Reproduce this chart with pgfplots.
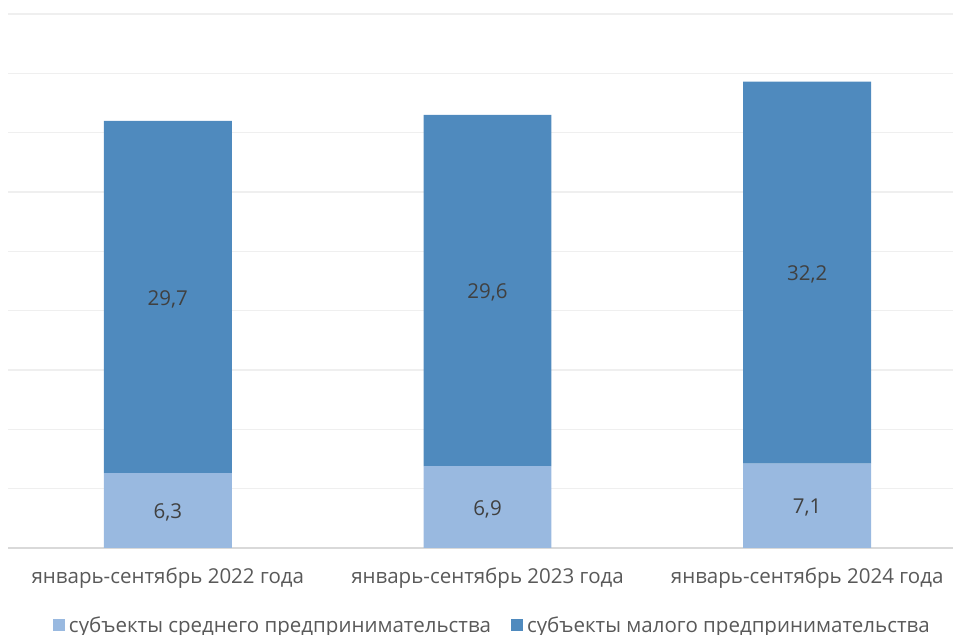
\documentclass[border=0pt]{standalone}
\usepackage{fontspec}
\setmainfont{Open Sans}
\usepackage{pgfplots}
\pgfplotsset{compat=1.18}
\definecolor{smallc}{HTML}{4F8ABE}
\definecolor{midc}{HTML}{99B9E0}
\definecolor{gridc}{HTML}{EFEFEF}
\definecolor{axc}{HTML}{D9D9D9}
\definecolor{txt}{HTML}{595959}
\definecolor{lab}{HTML}{404040}
\begin{document}
\begin{tikzpicture}
\useasboundingbox (0,0) rectangle (953bp,635bp);
\begin{axis}[
  at={(8bp,87bp)}, anchor=south west,
  scale only axis, width=959bp, height=534bp,
  xmin=-0.5, xmax=2.5, ymin=0, ymax=45,
  ybar stacked, bar width=0.4,
  /pgf/number format/assume math mode=true,
  ytick={0,5,...,45}, yticklabels={},
  xtick={0,1,2},
  xticklabels={январь-сентябрь 2022 года, январь-сентябрь 2023 года, январь-сентябрь 2024 года},
  xticklabel style={font=\fontsize{20.5bp}{22bp}\selectfont, text=txt, yshift=-16bp},
  major tick length=0pt,
  ymajorgrids, grid style={draw=gridc, line width=1.3bp},
  separate axis lines,
  axis x line*=bottom, axis y line*=left,
  x axis line style={draw=axc, line width=1.5bp},
  y axis line style={draw=none},
  visualization depends on=rawy \as \myy,
  nodes near coords={\pgfmathprintnumber[fixed, fixed zerofill, precision=1, use comma, assume math mode=true]{\myy}},
  every node near coord/.append style={font=\fontsize{20.5bp}{22bp}\selectfont, text=lab, anchor=center, yshift=-2bp},
  legend columns=2,
  legend style={draw=none, fill=none, at={(0.505,-0.144)}, anchor=center, font=\fontsize{20.5bp}{22bp}\selectfont, text=txt,
    /tikz/every odd column/.append style={column sep=2bp},
    /tikz/every even column/.append style={column sep=18bp}},
  legend image code/.code={\fill[#1] (0bp,-6bp) rectangle (12bp,6bp);},
]
\addplot[fill=midc, draw=none] coordinates {(0,6.3) (1,6.9) (2,7.1)};
\addplot[fill=smallc, draw=none] coordinates {(0,29.7) (1,29.6) (2,32.2)};
\legend{субъекты среднего предпринимательства, субъекты малого предпринимательства}
\end{axis}
\end{tikzpicture}
\end{document}
